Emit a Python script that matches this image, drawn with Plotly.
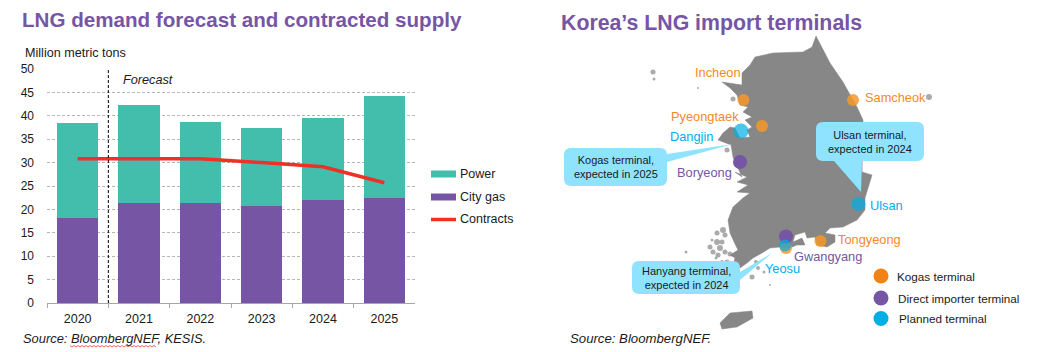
import plotly.graph_objects as go

# ---- chart data
years = ["2020", "2021", "2022", "2023", "2024", "2025"]
city_gas = [18.2, 21.4, 21.4, 20.8, 22.0, 22.5]
power = [20.3, 21.0, 17.3, 16.7, 17.6, 21.8]
contracts = [30.8, 30.8, 30.8, 30.0, 29.1, 25.7]
y_ticks = [0, 5, 10, 15, 20, 25, 30, 35, 40, 45, 50]

# ---- map data (map units are page pixels)
mainland_x = [816,822,830,843,850,857,863,862,862,872,868,865,865,857,843,830,825,835,835,827,817,815,807,805,795,793,802,805,797,790,780,770,762,753,747,740,733,735,730,738,735,733,730,728,733,743,750,737,748,737,747,735,742,733,731,718,723,730,735,740,750,747,752,745,752,743,748,740,737,730,722,742,742,750,755,773,803,812,816]
mainland_y = [36,47,63,82,95,107,120,162,172,175,187,198,210,220,227,228,233,235,242,247,245,237,238,232,235,242,238,245,245,248,247,248,253,258,263,268,265,258,255,250,244,240,233,220,207,198,193,192,185,182,177,172,177,157,145,140,133,127,128,138,137,130,127,120,117,112,107,105,95,88,82,85,73,65,57,53,52,47,36]
jeju_x = [720,730,752,753,737,722,720]
jeju_y = [323,313,311,318,327,329,323]
islet_x = [653,654,698,929,733,727,723,717,725,717,722,710,720,713,725,730,718,686,727,740,752,758,770,728,722,716,712,746,756,764]
islet_y = [72,79,88,97,99,150,230,233,235,242,242,247,248,252,252,254,255,252,262,277,277,268,285,268,262,258,240,272,262,272]
islet_size = [5,3,2,6,5,5,6,5,5,6,5,5,6,5,5,5,5,3,5,4,5,4,2,4,4,3,3,4,4,3]

kogas_x = [743.5, 762, 853, 820.5, 786]
kogas_y = [100, 126, 100, 241, 248]
direct_x = [740, 786]
direct_y = [162, 236.5]
planned_x = [741, 858.5, 785]
planned_y = [131, 204, 245.5]

labels = [
    ("Incheon", 694, 72, "#F58A1F"), ("Samcheok", 864, 97, "#F58A1F"),
    ("Pyeongtaek", 670, 116, "#F58A1F"), ("Tongyeong", 837, 239, "#F58A1F"),
    ("Dangjin", 669, 136, "#00AEEF"), ("Ulsan", 869, 205, "#00AEEF"), ("Yeosu", 764, 268, "#00AEEF"),
    ("Boryeong", 676, 172, "#7655A4"), ("Gwangyang", 793, 256, "#7655A4"),
]
callouts = [
    ("Kogas terminal,<br>expected in 2025", 564, 148, 667, 186, [(667, 154), (733, 144), (667, 162)]),
    ("Ulsan terminal,<br>expected in 2024", 816, 122, 924, 161, [(834, 161), (861, 192), (862, 161)]),
    ("Hanyang terminal,<br>expected in 2024", 632, 261, 740, 294, [(740, 272), (772, 253), (740, 280)]),
]
map_legend = [("Kogas terminal", 896, 276, "#F58214"),
              ("Direct importer terminal", 897, 298, "#7655A4"),
              ("Planned terminal", 898, 318.5, "#00AEE6")]

PURPLE, TEAL, RED, GRAY = "#7655A4", "#43BEAC", "#EE3124", "#878787"
FONT = "Liberation Sans"
W, H = 1038, 352
PX0, PX1, PY0, PY1 = 47, 415, 69, 303

fig = go.Figure()
fig.add_bar(x=years, y=city_gas, name="City gas", marker=dict(color=PURPLE, line_width=0), showlegend=False)
fig.add_bar(x=years, y=power, name="Power", marker=dict(color=TEAL, line_width=0), showlegend=False)
fig.add_scatter(x=years, y=contracts, mode="lines", name="Contracts", showlegend=False,
                line=dict(color=RED, width=3.5))

m = dict(xaxis="x2", yaxis="y2", showlegend=False, hoverinfo="skip")
fig.add_scatter(x=mainland_x, y=mainland_y, mode="lines", fill="toself", fillcolor=GRAY, line=dict(color=GRAY, width=0.5), **m)
fig.add_scatter(x=jeju_x, y=jeju_y, mode="lines", fill="toself", fillcolor=GRAY, line=dict(color=GRAY, width=0.5), **m)
fig.add_scatter(x=islet_x, y=islet_y, mode="markers", marker=dict(color=GRAY, size=islet_size, line_width=0), **m)
fig.add_scatter(x=kogas_x, y=kogas_y, mode="markers", marker=dict(color="rgba(247,152,40,0.85)", size=12, line_width=0), **m)
fig.add_scatter(x=direct_x, y=direct_y, mode="markers", marker=dict(color=PURPLE, size=14, line_width=0), **m)
fig.add_scatter(x=planned_x, y=planned_y, mode="markers", marker=dict(color="#00AEE6", size=[15, 14, 12], line_width=0), **m)
fig.add_scatter(x=[881] * 3, y=[e[2] for e in map_legend], mode="markers",
                marker=dict(color=[e[3] for e in map_legend], size=15, line_width=0), **m)

shapes, ann = [], []
# forecast divider between the first two categories
shapes.append(dict(type="line", xref="x", yref="y", x0=0.5, x1=0.5, y0=0, y1=50, layer="above",
                   line=dict(color="black", width=1, dash="3px,2px")))


def txt(s, x, y, size=12, color="#1a1a1a", anchor="left", italic=False, bold=False):
    st = "italic" if italic else "normal"
    ann.append(dict(text=s, xref="x2", yref="y2", x=x, y=y, xanchor=anchor, yanchor="middle", showarrow=False,
                    font=dict(family=FONT, size=size, color=color, style=st, weight=700 if bold else 400),
                    align="center" if anchor == "center" else "left", borderpad=0))


def rounded(x0, y0, x1, y1, r, tip):
    p = f"M{x0+r},{y0}L{x1-r},{y0}Q{x1},{y0} {x1},{y0+r}"
    p += f"L{x1},{y1-r}Q{x1},{y1} {x1-r},{y1}L{x0+r},{y1}Q{x0},{y1} {x0},{y1-r}L{x0},{y0+r}Q{x0},{y0} {x0+r},{y0}Z"
    p += "M" + "L".join(f"{a},{b}" for a, b in tip) + "Z"
    return p


for s, x0, y0, x1, y1, tip in callouts:
    shapes.append(dict(type="path", xref="x2", yref="y2", layer="above", fillcolor="#8FE3FF", line_width=0,
                       path=rounded(x0, y0, x1, y1, 7, tip)))
    txt(s, (x0 + x1) / 2, (y0 + y1) / 2, size=11, anchor="center")

# left panel legend
for y, c in [(174, TEAL), (197, PURPLE)]:
    shapes.append(dict(type="rect", xref="x2", yref="y2", x0=431, x1=456, y0=y - 3.5, y1=y + 3.5,
                       fillcolor=c, line_width=0, layer="above"))
shapes.append(dict(type="line", xref="x2", yref="y2", x0=431, x1=456, y0=219.5, y1=219.5, layer="above",
                   line=dict(color=RED, width=3.5)))
txt("Power", 459, 174, 12.5)
txt("City gas", 459, 197, 12.5)
txt("Contracts", 459, 219, 12.5)

# spell-check squiggle under the source text
zx = [70 + i * 2 for i in range(44)]
zz = "M" + "L".join(f"{x},{345.5 + (i % 2) * 1.5}" for i, x in enumerate(zx))
shapes.append(dict(type="path", xref="x2", yref="y2", path=zz, line=dict(color="#E0443A", width=0.8), layer="above"))

txt("LNG demand forecast and contracted supply", 21, 19, 20.6, PURPLE, bold=True)
txt("Korea’s LNG import terminals", 560, 23, 21.3, PURPLE, bold=True)
txt("Million metric tons", 23.5, 53, 12.6)
txt("Forecast", 121.5, 80, 12.7, italic=True)
txt("Source: BloombergNEF, KESIS.", 21.5, 338, 12.9, italic=True)
txt("Source: BloombergNEF.", 568.5, 338, 13.2, italic=True)
for s, x, y, c in labels:
    txt(s, x - 0.5, y, 12.8, c)
for s, x, y, c in map_legend:
    txt(s, x - 0.5, y, 11.7)

fig.update_layout(
    width=W, height=H, margin=dict(l=0, r=0, t=0, b=0, autoexpand=False), barmode="stack", bargap=0.33,
    paper_bgcolor="white", plot_bgcolor="rgba(0,0,0,0)", font=dict(family=FONT, color="#1a1a1a"),
    shapes=shapes, annotations=ann, showlegend=False,
    xaxis=dict(domain=[PX0 / W, PX1 / W], anchor="y", type="category", tickson="boundaries", ticks="outside",
               ticklen=4, tickcolor="#A6A6A6", showline=True, linecolor="#A6A6A6", showgrid=False,
               tickfont=dict(size=12.5), ticklabelstandoff=4),
    yaxis=dict(domain=[1 - PY1 / H, 1 - PY0 / H], anchor="x", range=[0, 50], tickvals=y_ticks, showgrid=True,
               gridcolor="#B5B5B5", griddash="3px,2px", gridwidth=0.8, zeroline=False, showline=False, ticks="",
               tickfont=dict(size=12), ticklabelstandoff=12),
    xaxis2=dict(domain=[0, 1], range=[0, W], anchor="y2", visible=False, fixedrange=True),
    yaxis2=dict(domain=[0, 1], range=[H, 0], anchor="x2", visible=False, fixedrange=True),
)
fig.write_html("out.html", config=dict(displayModeBar=False),
               post_script="document.body.style.margin='0';document.documentElement.style.overflow='hidden';")
